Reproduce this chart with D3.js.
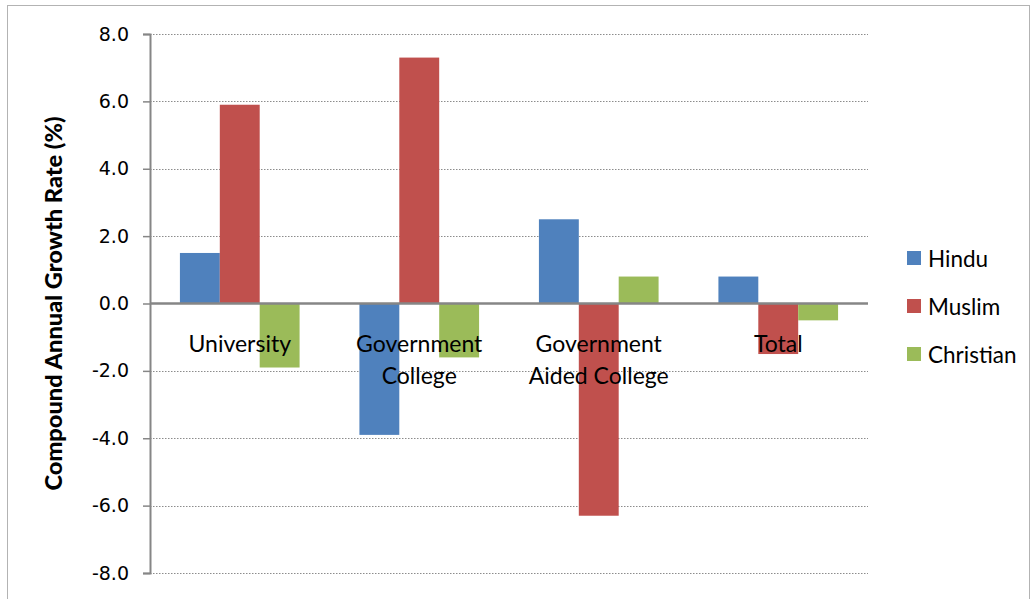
<!DOCTYPE html>
<html>
<head>
<meta charset="utf-8">
<script src="https://cdn.jsdelivr.net/npm/d3@7"></script>
<style>
  html, body { margin: 0; padding: 0; background: #fff; }
  svg { display: block; }
</style>
</head>
<body>
<svg id="chart" width="1033" height="599"></svg>
<script>
// Compound annual growth rate by institution type and community
const categories = [["University"], ["Government", "College"], ["Government", "Aided College"], ["Total"]];
const seriesNames = ["Hindu", "Muslim", "Christian"];
const hindu = [1.5, -3.9, 2.5, 0.8];
const muslim = [5.9, 7.3, -6.3, -1.5];
const christian = [-1.9, -1.6, 0.8, -0.5];
const yTicks = [-8, -6, -4, -2, 0, 2, 4, 6, 8];
const colors = ["#4F81BD", "#C0504D", "#9BBB59"];

const series = [hindu, muslim, christian];
const svg = d3.select("#chart");
const font = "Lato, 'Open Sans', sans-serif";

// outer frame
svg.append("rect")
  .attr("x", 7.5).attr("y", 5.5).attr("width", 1022).attr("height", 600)
  .attr("fill", "none").attr("stroke", "#b3b3b3").attr("stroke-width", 1);

const plotLeft = 150, plotRight = 868, plotTop = 34, plotBottom = 573;
const y = d3.scaleLinear().domain([-8, 8]).range([plotBottom, plotTop]);
const x0 = d3.scaleBand().domain(d3.range(categories.length)).range([plotLeft, plotRight]).paddingInner(0).paddingOuter(0);
// bar group occupies 1/1.5 of each band (gap width 150%)
const groupW = x0.bandwidth() / 1.5;
const x1 = d3.scaleBand().domain(d3.range(seriesNames.length)).range([0, groupW]);

// gridlines
svg.append("g").selectAll("line")
  .data(yTicks.filter(t => t !== 0))
  .join("line")
  .attr("x1", plotLeft).attr("x2", plotRight)
  .attr("y1", d => Math.round(y(d)) + 0.5).attr("y2", d => Math.round(y(d)) + 0.5)
  .attr("stroke", "#8c8c8c").attr("stroke-width", 1).attr("stroke-dasharray", "1.5,1.5");

// y axis
const yAxis = d3.axisLeft(y).tickValues(yTicks).tickFormat(d3.format(".1f")).tickSize(7).tickPadding(14);
const ya = svg.append("g").attr("transform", `translate(${plotLeft},0)`).call(yAxis);
ya.select(".domain").attr("stroke", "#868686").attr("stroke-width", 2);
ya.selectAll(".tick line").attr("stroke", "#868686").attr("stroke-width", 1.5);
ya.selectAll(".tick text")
  .attr("font-family", "'DejaVu Sans', Verdana, sans-serif")
  .attr("font-size", 19).attr("fill", "#000")
  .text(d => d3.format(".1f")(d).replace("−", "-"));

// bars
const groups = svg.append("g").selectAll("g")
  .data(categories.map((c, i) => i))
  .join("g")
  .attr("transform", i => `translate(${x0(i) + (x0.bandwidth() - groupW) / 2},0)`);

groups.selectAll("rect")
  .data(i => series.map((s, k) => ({ k, v: s[i] })))
  .join("rect")
  .attr("x", d => x1(d.k))
  .attr("width", x1.bandwidth())
  .attr("y", d => y(Math.max(0, d.v)))
  .attr("height", d => Math.abs(y(d.v) - y(0)))
  .attr("fill", d => colors[d.k]);

// zero line
svg.append("line")
  .attr("x1", plotLeft).attr("x2", plotRight)
  .attr("y1", y(0)).attr("y2", y(0))
  .attr("stroke", "#868686").attr("stroke-width", 2.5);

// category labels beside zero line
const catText = svg.append("g").selectAll("text")
  .data(categories)
  .join("text")
  .attr("x", (d, i) => x0(i) + x0.bandwidth() / 2)
  .attr("y", y(0) + 48)
  .attr("text-anchor", "middle")
  .attr("font-family", font).attr("font-size", 23).attr("fill", "#000");
catText.selectAll("tspan")
  .data(d => d)
  .join("tspan")
  .attr("x", function () { return this.parentNode.getAttribute("x"); })
  .attr("dy", (d, j) => j === 0 ? 0 : 32)
  .text(d => d);

// y axis title
svg.append("text")
  .attr("transform", `translate(62,${y(0)}) rotate(-90)`)
  .attr("text-anchor", "middle")
  .attr("font-family", font).attr("font-weight", "900").attr("font-size", 22)
  .attr("fill", "#000")
  .attr("textLength", 374).attr("lengthAdjust", "spacingAndGlyphs")
  .text("Compound Annual Growth Rate (%)");

// legend
const legend = svg.append("g").selectAll("g")
  .data(seriesNames)
  .join("g")
  .attr("transform", (d, i) => `translate(907,${251 + i * 48})`);
legend.append("rect").attr("width", 14).attr("height", 14).attr("fill", (d, i) => colors[i]);
legend.append("text")
  .attr("x", 21).attr("y", 16)
  .attr("font-family", font).attr("font-size", 22.5).attr("fill", "#000")
  .text(d => d);
</script>
</body>
</html>
